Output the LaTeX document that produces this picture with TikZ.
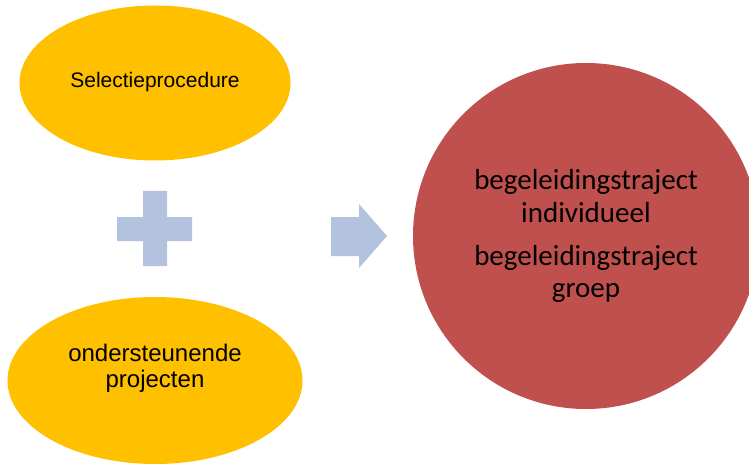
\documentclass[tikz,border=0pt]{standalone}
\usepackage{fontspec}
\setmainfont{Liberation Sans}
\newfontfamily\calfont{Carlito}
\usetikzlibrary{shapes.geometric}
\definecolor{oyellow}{HTML}{FFC000}
\definecolor{ored}{HTML}{C0504D}
\definecolor{oblue}{HTML}{B3C3DF}
\tikzset{
  yell/.style={ellipse, fill=oyellow, draw=none, inner sep=0pt},
  sym/.style={fill=oblue, draw=none},
  ltext/.style={text=black, align=center, inner sep=0pt},
}
\begin{document}
\begin{tikzpicture}[x=1pt,y=-1pt]
\useasboundingbox (0,0) rectangle (749,465);
% top ellipse
\node[yell, minimum width=271pt, minimum height=155pt] (sel) at (155,83) {};
\node[ltext, font=\fontsize{21}{24}\selectfont] (seltxt) at (155,82.5) {Selectieprocedure};
% bottom ellipse
\node[yell, minimum width=295pt, minimum height=167pt] (ond) at (155,380.5) {};
\node[ltext, font=\fontsize{24}{26}\selectfont] (ondtxt) at (155,368.5) {ondersteunende\\projecten};
% plus
\path[sym] (143,191) -- (167,191) -- (167,217) -- (192,217) -- (192,241) -- (167,241)
  -- (167,266) -- (143,266) -- (143,241) -- (117,241) -- (117,217) -- (143,217) -- cycle;
% arrow
\path[sym] (331,217) -- (359,217) -- (359,204) -- (387,236) -- (359,268) -- (359,256) -- (331,256) -- cycle;
% circle
\node[circle, fill=ored, draw=none, minimum size=346pt, inner sep=0pt] (beg) at (586,236) {};
\node[ltext, font=\calfont\fontsize{29}{32.5}\selectfont] (begtxt) at (586,236)
  {begeleidingstraject\\individueel\\[10.5pt]begeleidingstraject\\groep};
\end{tikzpicture}
\end{document}
